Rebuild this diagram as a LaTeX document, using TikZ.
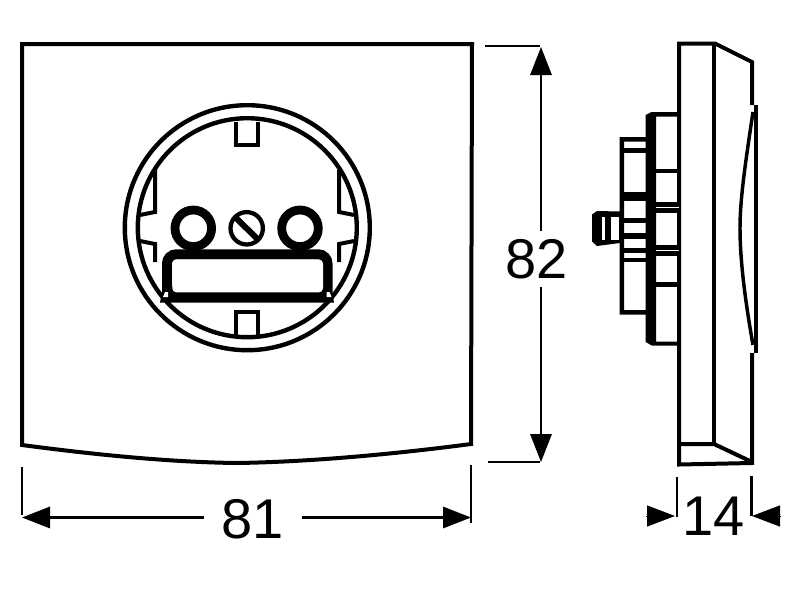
\documentclass[tikz,border=0pt]{standalone}
\usepackage{fontspec}
\setmainfont{Liberation Sans}
\usetikzlibrary{arrows.meta}
\tikzset{
  every picture/.style={line width=0.75pt},
  outline/.style={line width=3pt,line join=miter},
  ringline/.style={line width=3.3pt},
  extline/.style={line width=1.6pt},
  dimline/.style={line width=1.6pt,-{Triangle[length=21pt,width=16pt]}},
  dimtip/.style={line width=0pt,-{Triangle[length=21pt,width=16pt]}},
  dimtext/.style={font=\fontsize{42}{42}\selectfont,inner xsep=13pt,inner ysep=6pt},
}

\begin{document}
\begin{tikzpicture}[x=0.75pt,y=0.75pt,yscale=-1,xscale=1]
\useasboundingbox (0,0) rectangle (800,600);

%Shape: front plate
\draw [outline] (22,44) -- (472,44) -- (471,444) .. controls (395,454) and (310,462) .. (236,463) .. controls (165,462) and (90,454) .. (22,445) -- cycle ;

%Shape: socket rings
\draw [ringline] (247.3,227.7) circle (122.5) ;
\draw [ringline] (247.3,227.7) circle (109.5) ;

%Shape: earth clips
\draw [outline] (236,122) -- (236,144.5) -- (258,144.5) -- (258,122) ;
\draw [outline] (236,336) -- (236,312) -- (258,312) -- (258,336) ;

%Shape: side tabs
\draw [outline] (155,170) -- (155,212) -- (140,215) ;
\draw [outline] (140,241) -- (155,244) -- (155,262) ;
\draw [outline] (339,170) -- (339,212) -- (354,215) ;
\draw [outline] (354,241) -- (339,244) -- (339,262) ;

%Shape: contact bar
\fill (160,302.5) -- (163,286) -- (331,286) -- (334,302.5) -- cycle ;
\draw [line width=7.5pt,rounded corners=7pt] (167,297.5) -- (167,254.3) -- (327.5,254.3) -- (327.5,297.5) ;
\fill [white,rounded corners=3pt] (172.3,292.3) -- (172.3,259.5) -- (323,259.5) -- (323,292.3) -- cycle ;
\fill [white] (165,292) -- (168,292) -- (168,297) -- (163,297) -- cycle ;
\fill [white] (329.5,292) -- (326.5,292) -- (326.5,297) -- (331.5,297) -- cycle ;

%Shape: holes
\draw [line width=6.6pt,fill=white] (193.3,228.3) circle (18.3) ;
\draw [line width=6.6pt,fill=white] (300,228.3) circle (18.3) ;

%Shape: screw
\draw [line width=3.2pt] (246.7,228.3) circle (16.2) ;
\draw [line width=4.5pt] (234,216) -- (259.5,241) ;

%Shape: side view body
\draw [outline] (752,105) -- (752,62) -- (715,43.5) -- (679,43.5) -- (679,464.5) -- (752,463) -- (752,353) ;
\draw [outline] (714,43.5) -- (714,444) ;
\draw [outline] (679,444) -- (714,444) -- (752,462) ;

%Shape: cover edge
\draw [line width=3pt] (755.7,105) -- (755.7,353) ;
\draw [line width=2.6pt] (753,112) .. controls (745,165) and (740,200) .. (740,228) .. controls (740,260) and (745,300) .. (753,345) ;

%Shape: back flange
\fill (679,112) -- (651.7,112) -- (645.7,115) -- (645.7,342) -- (651.7,345.5) -- (679,345.5) -- (679,341.5) -- (656,341.5) -- (656,116.5) -- (679,116.5) -- cycle ;
\foreach \bary/\barh in {168.5/4.5,202/11,245/11,282/5} {
  \fill (656,\bary) rectangle (679,\bary+\barh) ;
}
\draw [white,line width=0.6pt] (656,207.5) -- (679,207.5) ;
\draw [white,line width=0.6pt] (656,250.5) -- (679,250.5) ;

%Shape: middle body
\fill (646,137) -- (619.5,137) -- (619.5,314.5) -- (646,314.5) -- (646,310) -- (624,310) -- (624,141.5) -- (646,141.5) -- cycle ;
\foreach \bary/\barh in {148/4.5,192/9,218/5,233/6,248/5,258/4} {
  \fill (624,\bary) rectangle (646,\bary+\barh) ;
}

%Shape: stud
\fill (620,211.5) -- (597,211) -- (592,214.5) -- (592,241.5) -- (597,246) -- (620,243) -- cycle ;
\fill [white] (601.5,217) rectangle (605,240) ;
\fill [white] (611,217) rectangle (618.5,240) ;

% Text Node
\node (lab82) [dimtext] at (537,259) {82};
\node (lab81) [dimtext] at (253,519) {81};
\node (lab14) [dimtext] at (714,516) {14};

%Dimension ends
\coordinate (top82) at (541,47) ;
\coordinate (bot82) at (541,462) ;
\coordinate (lft81) at (22,517.5) ;
\coordinate (rgt81) at (471,517.5) ;
\coordinate (lft14) at (675,516) ;
\coordinate (rgt14) at (752,516) ;
\coordinate (tail14a) at (646,516) ;
\coordinate (tail14b) at (780,516) ;

\draw [dimline] (lab82.north -| top82) -- (top82) ;
\draw [dimline] (lab82.south -| top82) -- (bot82) ;
\draw [dimline] (lab81.west |- lft81) -- (lft81) ;
\draw [dimline] (lab81.east |- rgt81) -- (rgt81) ;
\draw [dimtip] (tail14a) -- (lft14) ;
\draw [dimtip] (tail14b) -- (rgt14) ;

%Extension lines
\draw [extline] (485,46) -- (540,46) ;
\draw [extline] (488,462) -- (540,462) ;
\draw [extline] (22,467) -- (22,515) ;
\draw [extline] (471,465) -- (471,523) ;
\draw [extline] (677,477) -- (677,517) ;
\draw [extline] (751.5,476) -- (751.5,516) ;

\end{tikzpicture}
\end{document}
